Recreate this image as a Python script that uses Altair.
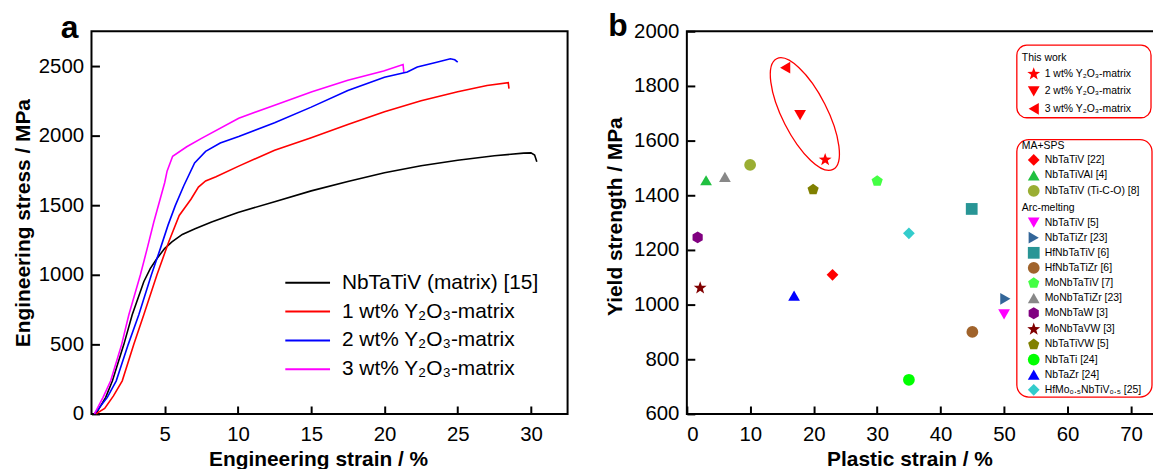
import math
import altair as alt
import pandas as pd

FONT = "Liberation Sans, Arial, sans-serif"

# ---------------- Panel a: stress-strain curves ----------------
series_names = ["NbTaTiV (matrix) [15]", "1 wt% Y₂O₃-matrix", "2 wt% Y₂O₃-matrix", "3 wt% Y₂O₃-matrix"]
series_colors = ["#000000", "#FF0000", "#0000FF", "#FF00FF"]

black_x = [0.3, 0.97, 1.43, 2.21, 2.78, 3.57, 4.02, 4.47, 4.99, 5.49, 6.2, 7.07, 8.2, 9.33, 10.0, 12.5, 15.0, 17.5, 20.0, 22.5, 25.0, 27.5, 29.5, 30.0, 30.25, 30.4]
black_y = [0, 119, 238, 500, 713, 950, 1046, 1117, 1188, 1236, 1290, 1331, 1380, 1423, 1448, 1525, 1603, 1670, 1733, 1783, 1823, 1856, 1874, 1876, 1860, 1812]

red_x = [0.3, 0.9, 1.5, 2.1, 2.89, 3.57, 4.47, 5.27, 5.99, 6.79, 7.3, 7.79, 8.5, 10.05, 12.5, 15.0, 17.5, 20.0, 22.5, 25.0, 27.0, 28.45, 28.5]
red_y = [0, 40, 130, 238, 500, 713, 1000, 1236, 1426, 1543, 1630, 1674, 1705, 1781, 1895, 1985, 2080, 2172, 2250, 2315, 2360, 2381, 2338]

blue_x = [0.2, 1.08, 1.69, 2.51, 3.23, 4.09, 4.7, 5.22, 5.72, 6.3, 7.04, 7.79, 8.79, 10.05, 12.5, 15.0, 17.5, 20.0, 21.56, 22.24, 23.5, 24.5, 24.8, 25.0]
blue_y = [0, 119, 238, 500, 713, 1000, 1188, 1355, 1497, 1640, 1804, 1887, 1947, 1994, 2093, 2205, 2325, 2420, 2457, 2493, 2525, 2552, 2545, 2528]

mag_x = [0.2, 0.79, 1.31, 2.06, 2.55, 3.34, 3.8, 4.25, 5.0, 5.16, 5.54, 6.5, 7.54, 10.05, 12.5, 15.05, 17.5, 19.94, 21.27, 21.32]
mag_y = [0, 119, 238, 500, 713, 1000, 1188, 1378, 1663, 1745, 1852, 1920, 1982, 2125, 2219, 2315, 2398, 2464, 2511, 2457]

a_xticks = [5, 10, 15, 20, 25, 30]
a_yticks = [0, 500, 1000, 1500, 2000, 2500]

rows = []
for name, xs, ys in zip(series_names, [black_x, red_x, blue_x, mag_x], [black_y, red_y, blue_y, mag_y]):
    for i, (xv, yv) in enumerate(zip(xs, ys)):
        rows.append({"series": name, "strain": xv, "stress": yv, "i": i})
dfa = pd.DataFrame(rows)

H = 385      # plot height of both panels
TICK = 8     # inward tick length

# inward ticks drawn as a short dash of each grid line at the axis side
GRID_X = dict(grid=True, gridColor="black", gridWidth=2, gridOpacity=1, gridDash=[0, H - TICK, TICK, 0])
GRID_Y = dict(grid=True, gridColor="black", gridWidth=2, gridOpacity=1, gridDash=[TICK, 2000])

WA, HA = 479, H
xa = alt.Scale(domain=[0, 32.5], nice=False, zero=False)
ya = alt.Scale(domain=[0, 2750], nice=False, zero=False)
axis_xa = alt.Axis(values=a_xticks, format="d", title="Engineering strain / %", labelPadding=11,
                   titlePadding=3, titleX=228, **GRID_X)
axis_ya = alt.Axis(values=a_yticks, format="d", title="Engineering stress / MPa", labelPadding=8,
                   titlePadding=5, **GRID_Y)

lines = alt.Chart(dfa).mark_line(strokeWidth=1.6).encode(
    x=alt.X("strain:Q", scale=xa, axis=axis_xa),
    y=alt.Y("stress:Q", scale=ya, axis=axis_ya),
    color=alt.Color("series:N", scale=alt.Scale(domain=series_names, range=series_colors),
                    legend=alt.Legend(title=None, orient="none", legendX=198.5, legendY=234,
                                      symbolType="M -1.25 0 L 1.25 0", symbolSize=1296,
                                      symbolStrokeWidth=2, labelFontSize=21, labelFont=FONT,
                                      labelColor="black", labelOffset=15.5, rowPadding=0,
                                      padding=0, labelLimit=400)),
    order="i:Q",
)

a_lab = alt.Chart(pd.DataFrame({"t": ["a"]})).mark_text(
    fontSize=32, fontWeight="bold", font=FONT, align="left", baseline="alphabetic", color="black"
).encode(text="t:N", x=alt.value(-31), y=alt.value(7))

panel_a = alt.layer(lines, a_lab).properties(width=WA, height=HA)

# ---------------- Panel b: yield strength vs plastic strain ----------------
def poly(n, r_out, r_in=None):
    pts = []
    m = n * 2 if r_in else n
    for k in range(m):
        r = r_out if (r_in is None or k % 2 == 0) else r_in
        ang = math.radians(-90 + 360.0 * k / m)
        pts.append(f"{r * math.cos(ang):.3f} {r * math.sin(ang):.3f}")
    return "M " + " L ".join(pts) + " Z"

STAR = poly(5, 1.15, 0.47)
PENT = poly(5, 1.0)
HEX = poly(6, 1.0)
ELLIPSE = "M -1 0 A 1 0.36 0 1 0 1 0 A 1 0.36 0 1 0 -1 0 Z"

work_labels = ["1 wt% Y₂O₃-matrix", "2 wt% Y₂O₃-matrix", "3 wt% Y₂O₃-matrix"]
work_x = [21.8, 17.85, 15.5]
work_y = [1530, 1693, 1867]
work_colors = ["#FF0000", "#FF0000", "#FF0000"]
work_shapes = [STAR, "triangle-down", "triangle-left"]

mas_labels = ["NbTaTiV [22]", "NbTaTiVAl [4]", "NbTaTiV (Ti-C-O) [8]"]
mas_x = [22.96, 3.03, 9.97]
mas_y = [1109, 1455, 1511]
mas_colors = ["#FF0000", "#20C040", "#9AAE33"]
mas_shapes = ["diamond", "triangle-up", "circle"]

arc_labels = ["NbTaTiV [5]", "NbTaTiZr [23]", "HfNbTaTiV [6]", "HfNbTaTiZr [6]", "MoNbTaTiV [7]",
              "MoNbTaTiZr [23]", "MoNbTaW [3]", "MoNbTaVW [3]", "NbTaTiVW [5]", "NbTaTi [24]",
              "NbTaZr [24]", "HfMo₀.₅NbTiV₀.₅ [25]"]
arc_x = [50, 50.2, 44.9, 45, 30, 6, 1.7, 2.1, 19.9, 35, 16.9, 35]
arc_y = [964, 1021, 1350, 900, 1452, 1467, 1246, 1061, 1421, 725, 1033, 1261]
arc_colors = ["#FF00FF", "#336699", "#289595", "#A0632B", "#44FF44", "#888888", "#800080",
              "#800000", "#808000", "#00FF00", "#0000FF", "#33CCCC"]
arc_shapes = ["triangle-down", "triangle-right", "square", "circle", PENT, "triangle-up", HEX,
              STAR, PENT, "circle", "triangle-up", "diamond"]

b_xticks = [0, 10, 20, 30, 40, 50, 60, 70]
b_yticks = [600, 800, 1000, 1200, 1400, 1600, 1800, 2000]

WB, HB = 473, H
xb = alt.Scale(domain=[0, 74.1], nice=False, zero=False)
yb = alt.Scale(domain=[600, 2000], nice=False, zero=False)

xaxis_b = alt.Axis(values=b_xticks, format="d", title="Plastic strain / %", labelPadding=11,
                   titlePadding=3, titleX=224, **GRID_X)
yaxis_b = alt.Axis(values=b_yticks, format="d", title="Yield strength / MPa", labelPadding=8,
                   titlePadding=8, titleY=186, **GRID_Y)


def legend_b(title, ly, rowpad, tpad):
    return alt.Legend(title=title, orient="none", legendX=337, legendY=ly, titleFontSize=10.5,
                      titleFontWeight="normal", titleFont=FONT, titleColor="black",
                      labelFontSize=10.5, labelFont=FONT, labelColor="black", symbolSize=140,
                      symbolOffset=6, labelOffset=5, rowPadding=rowpad, titlePadding=tpad,
                      padding=0, labelLimit=300, symbolStrokeWidth=0)


def group_layer(labels, xs, ys, colors, shapes, leg):
    df = pd.DataFrame({"label": labels, "ps": xs, "ys": ys})
    return alt.Chart(df).mark_point(filled=True, size=140, opacity=1).encode(
        x=alt.X("ps:Q", scale=xb, axis=xaxis_b),
        y=alt.Y("ys:Q", scale=yb, axis=yaxis_b),
        color=alt.Color("label:N", scale=alt.Scale(domain=labels, range=colors), legend=leg),
        shape=alt.Shape("label:N", scale=alt.Scale(domain=labels, range=shapes), legend=leg),
    )


l_work = group_layer(work_labels, work_x, work_y, work_colors, work_shapes,
                     legend_b("This work", 21.5, 5.5, 5))
l_mas = group_layer(mas_labels, mas_x, mas_y, mas_colors, mas_shapes,
                    legend_b("MA+SPS", 110, 3.5, 3))
l_arc = group_layer(arc_labels, arc_x, arc_y, arc_colors, arc_shapes,
                    legend_b("Arc-melting", 173, 3.2, 3))

ell = alt.Chart(pd.DataFrame({"cx": [18.6], "cy": [1697]})).mark_point(
    shape=ELLIPSE, size=15625, angle=63, filled=False, stroke="#FF0000", strokeWidth=1.3, opacity=1
).encode(x=alt.X("cx:Q", scale=xb, axis=xaxis_b), y=alt.Y("cy:Q", scale=yb, axis=yaxis_b))

box1 = alt.Chart(pd.DataFrame({"k": [1]})).mark_rect(
    fillOpacity=0, stroke="#FF0000", strokeWidth=1.3, cornerRadius=10
).encode(x=alt.value(332), x2=alt.value(467), y=alt.value(14), y2=alt.value(87))
box2 = alt.Chart(pd.DataFrame({"k": [1]})).mark_rect(
    fillOpacity=0, stroke="#FF0000", strokeWidth=1.3, cornerRadius=12
).encode(x=alt.value(332), x2=alt.value(468), y=alt.value(109), y2=alt.value(368))

b_lab = alt.Chart(pd.DataFrame({"t": ["b"]})).mark_text(
    fontSize=32, fontWeight="bold", font=FONT, align="left", baseline="alphabetic", color="black"
).encode(text="t:N", x=alt.value(-79), y=alt.value(5))

panel_b = alt.layer(l_work, l_mas, l_arc, ell, box1, box2, b_lab).resolve_scale(
    color="independent", shape="independent"
).properties(width=WB, height=HB)

chart = alt.hconcat(panel_a, panel_b, spacing=35).resolve_scale(
    color="independent", shape="independent"
).properties(
    padding={"left": 3, "top": 0, "right": -5, "bottom": -1}
).configure_view(
    stroke="black", strokeWidth=2
).configure_axis(
    domain=False, ticks=False, tickSize=0,
    labelFont=FONT, labelFontSize=20.5, labelColor="black",
    titleFont=FONT, titleFontSize=21, titleFontWeight="bold", titleColor="black",
).configure_text(font=FONT)

chart.save("out.html", embed_options={"renderer": "svg", "actions": False})
